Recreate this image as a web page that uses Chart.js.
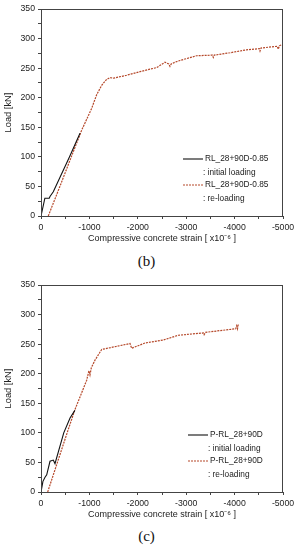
<!DOCTYPE html>
<html>
<head>
<meta charset="utf-8">
<script src="https://cdn.jsdelivr.net/npm/chart.js@4"></script>
<style>
  html, body { margin: 0; padding: 0; background: #fff; }
  body { width: 301px; height: 550px; position: relative; overflow: hidden; }
  .box { position: absolute; left: 0; width: 301px; height: 250px; }
  .cap { position: absolute; width: 301px; left: -4px; text-align: center;
         font-family: "Liberation Serif", serif; font-size: 15px; color: #111; }
</style>
</head>
<body>
<div class="box" style="top:0"><canvas id="chartB"></canvas></div>
<div class="cap" style="top:253px">(b)</div>
<div class="box" style="top:276px"><canvas id="chartC"></canvas></div>
<div class="cap" style="top:528px">(c)</div>

<script>
// (b) RL_28+90D-0.85
const strainInitB = [0, -80, -170, -186, -254, -590, -806];
const loadInitB   = [0, 30, 30, 33, 41, 100, 140];
const strainReB = [-150, -400, -626, -840, -1047, -1150, -1254, -1357, -1425, -1495, -1770, -2045,
  -2390, -2562, -2640, -2665, -2690, -2769, -2872, -3217, -3540, -3560, -3580, -3905, -4250,
  -4510, -4525, -4545, -4880, -4903, -4925, -4994];
const loadReB = [0, 52, 100, 145, 182, 205, 221, 231, 234, 233, 238, 244,
  251, 260, 257, 253, 257, 260, 263, 271, 272, 268, 272, 276, 281,
  283, 279, 284, 287, 282, 288, 290];

// (c) P-RL_28+90D
const strainInitC = [0, -40, -83, -118, -186, -254, -289, -470, -600, -700];
const loadInitC   = [0, 18, 25, 29, 52, 54, 48, 100, 125, 138];
const strainReC = [-138, -540, -700, -944, -990, -1012, -1040, -1116, -1254, -1839, -1873,
  -2149, -2527, -2837, -3354, -3370, -3400, -4022, -4043, -4060, -4077];
const loadReC = [0, 100, 139, 189, 205, 198, 210, 223, 241, 251, 243,
  252, 257, 265, 269, 266, 270, 276, 281, 276, 284];

const xTicks = [0, -1000, -2000, -3000, -4000, -5000];
const yTicks = [0, 50, 100, 150, 200, 250, 300, 350];

const FONT = '"Liberation Sans", Arial, sans-serif';

function pts(xs, ys) {
  return xs.map((x, i) => ({ x: x, y: ys[i] }));
}

// frame around the plot area
const frame = {
  id: 'frame',
  afterDraw(chart) {
    const a = chart.chartArea, ctx = chart.ctx;
    ctx.save();
    ctx.strokeStyle = '#444';
    ctx.lineWidth = 1;
    ctx.strokeRect(a.left + 0.5, a.top + 0.5, a.right - a.left - 1, a.bottom - a.top);
    ctx.restore();
  }
};

// legend drawn inside the plot, two lines per entry
const boxLegend = {
  id: 'boxLegend',
  afterDraw(chart, args, opts) {
    const ctx = chart.ctx;
    ctx.save();
    ctx.font = '8.3px ' + FONT;
    ctx.fillStyle = '#222';
    ctx.textBaseline = 'middle';
    chart.data.datasets.forEach((ds, i) => {
      const y = opts.rows[i * 2];
      ctx.strokeStyle = ds.borderColor;
      ctx.lineWidth = ds.borderWidth;
      ctx.setLineDash(ds.borderDash || []);
      ctx.beginPath();
      ctx.moveTo(opts.x0, y);
      ctx.lineTo(opts.x1, y);
      ctx.stroke();
      ctx.setLineDash([]);
      ctx.fillText(ds.label, opts.x1 + 2, y);
      ctx.fillText(opts.notes[i], opts.x1, opts.rows[i * 2 + 1]);
    });
    ctx.restore();
  }
};

function makeChart(id, initX, initY, reX, reY, name, legendX) {
  new Chart(document.getElementById(id), {
    type: 'line',
    data: {
      datasets: [{
        label: name,
        data: pts(initX, initY),
        borderColor: '#111',
        borderWidth: 1.1,
        pointRadius: 0,
        tension: 0
      }, {
        label: name,
        data: pts(reX, reY),
        borderColor: '#b5482a',
        borderWidth: 1.2,
        borderDash: [2, 1],
        pointRadius: 0,
        tension: 0
      }]
    },
    options: {
      responsive: false,
      animation: false,
      layout: { padding: { top: 9, right: 18, bottom: 4, left: 0 } },
      plugins: {
        legend: { display: false },
        tooltip: { enabled: false },
        boxLegend: {
          x0: legendX, x1: legendX + 20,
          rows: [159, 173, 185, 199],
          notes: [': initial loading', ': re-loading']
        }
      },
      scales: {
        x: {
          type: 'linear',
          reverse: true,
          min: -5000,
          max: 0,
          border: { display: true, color: '#444' },
          grid: { drawOnChartArea: false, tickLength: 3, color: '#444' },
          ticks: {
            stepSize: 500,
            autoSkip: false,
            maxRotation: 0,
            padding: 3,
            color: '#222',
            font: { family: FONT, size: 8.7 },
            callback: v => xTicks.includes(v) ? String(v) : ''
          },
          title: {
            display: true,
            text: 'Compressive concrete strain [ x10\u207B\u2076 ]',
            color: '#222',
            font: { family: FONT, size: 9 },
            padding: { top: 0, bottom: 2 }
          },
          afterFit: s => { s.height = 30; }
        },
        y: {
          type: 'linear',
          min: 0,
          max: 350,
          border: { display: true, color: '#444' },
          grid: { drawOnChartArea: false, tickLength: 3, color: '#444' },
          ticks: {
            stepSize: 25,
            autoSkip: false,
            padding: 3,
            color: '#222',
            font: { family: FONT, size: 8.7 },
            callback: v => yTicks.includes(v) ? String(v) : ''
          },
          title: {
            display: true,
            text: 'Load [kN]',
            color: '#222',
            font: { family: FONT, size: 9.3 },
            padding: { top: 3, bottom: 0 }
          },
          afterFit: s => { s.width = 41; }
        }
      }
    },
    plugins: [frame, boxLegend]
  });
}

document.getElementById('chartB').width = 301;
document.getElementById('chartB').height = 250;
document.getElementById('chartC').width = 301;
document.getElementById('chartC').height = 250;

makeChart('chartB', strainInitB, loadInitB, strainReB, loadReB, 'RL_28+90D-0.85', 183);
makeChart('chartC', strainInitC, loadInitC, strainReC, loadReC, 'P-RL_28+90D', 188);
</script>
</body>
</html>
